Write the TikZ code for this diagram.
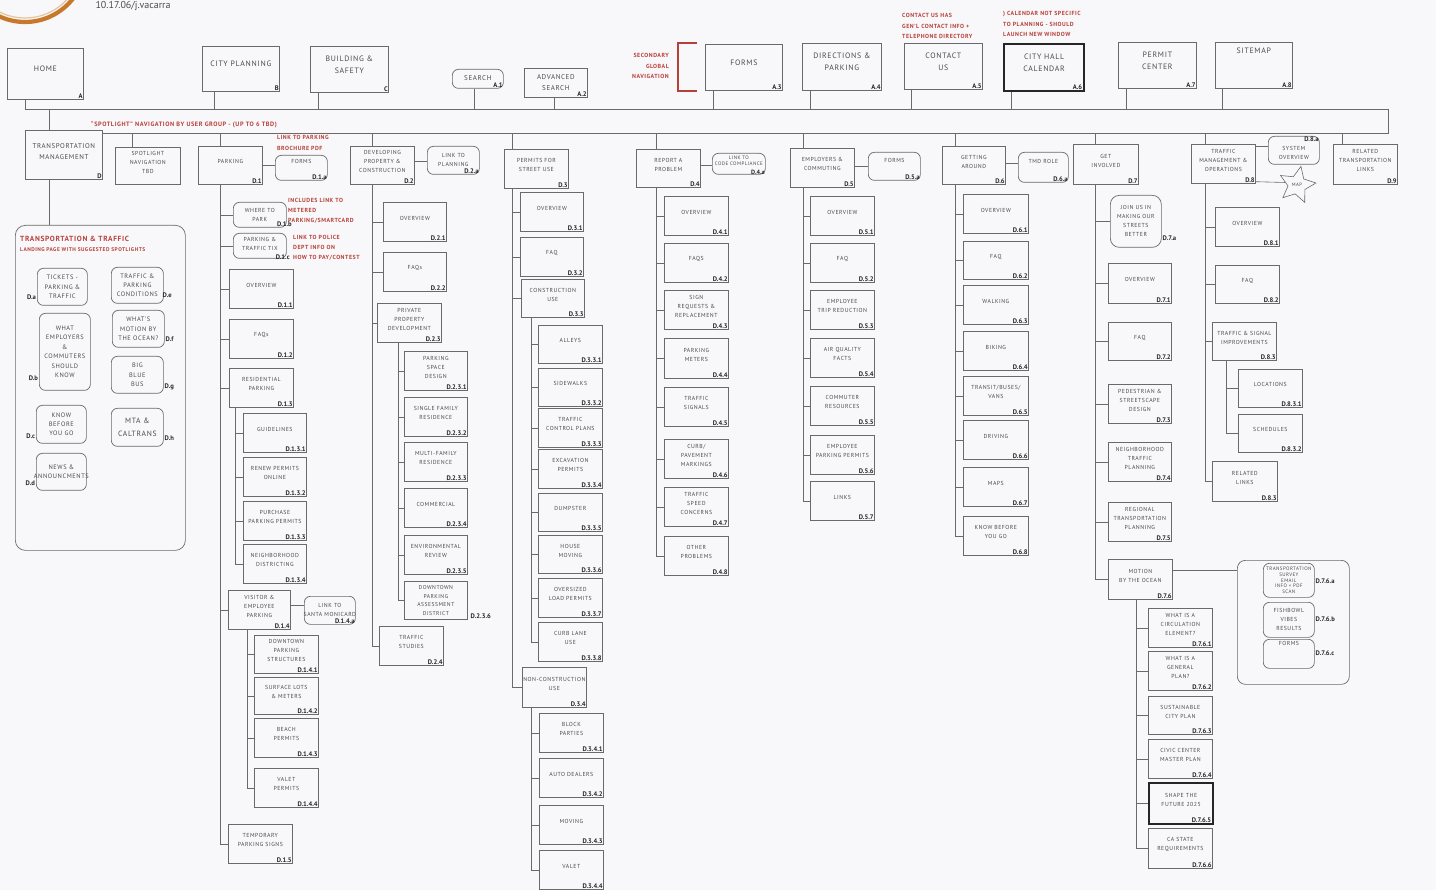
\documentclass[tikz,border=0pt]{standalone}
\usepackage{fontspec}
\setmainfont{PT Sans}
\newfontfamily\boxfont[LetterSpace=9,Ligatures=TeX]{PT Sans}
\usetikzlibrary{shapes.geometric}
\definecolor{lc}{HTML}{6A6A6A}
\definecolor{rd}{HTML}{B8403A}
\definecolor{bg}{HTML}{F8F8FA}
\definecolor{tx}{HTML}{4A4A4A}
\definecolor{orng}{HTML}{C8782A}
\tikzset{
  ln/.style={draw=lc, line width=0.6pt},
  bx/.style={draw=lc, line width=0.7pt, inner sep=0pt},
  rbx/.style={bx, rounded corners=6pt},
  txt/.style={text=tx, font=\boxfont\fontsize{5.8}{9}\selectfont, align=center, inner sep=0pt},
  ptxt/.style={text=tx, font=\boxfont\fontsize{6.4}{9.4}\selectfont, align=center, inner sep=0pt},
  big/.style={text=tx, font=\boxfont\fontsize{7.8}{12}\selectfont, align=center, inner sep=0pt},
  lab/.style={text=black!85, font=\bfseries\fontsize{6.6}{7}\selectfont, inner sep=0.8pt},
  note/.style={text=rd, font=\boxfont\bfseries\fontsize{5.9}{10.6}\selectfont, inner sep=0pt},
  thick box/.style={line width=2.2pt, draw=black!85},
}
\newcommand\mybox[8][]{%
  \node[bx,#1,anchor=north west,minimum width=#5pt,minimum height=#6pt] (#2) at (#3,#4) {};
  \node[txt] at ([yshift=3.5pt]#2.center) {#7};
  \node[lab,anchor=south east] at (#2.south east) {#8};}
\newcommand\topbox[8][]{%
  \node[bx,#1,anchor=north west,minimum width=#5pt,minimum height=#6pt] (#2) at (#3,#4) {};
  \node[big] at ([yshift=5pt]#2.center) {#7};
  \node[lab,anchor=south east] at (#2.south east) {#8};}
\newcommand\rbox[7][]{%
  \node[rbx,#1,anchor=north west,minimum width=#5pt,minimum height=#6pt] (#2) at (#3,#4) {};
  \node[txt] at (#2.center) {#7};}
\newcommand\prbox[7][]{%
  \node[rbx,#1,anchor=north west,minimum width=#5pt,minimum height=#6pt] (#2) at (#3,#4) {};
  \node[ptxt] at (#2.center) {#7};}
\newcommand\dn[3]{\draw[ln] ([xshift=#2pt]#1.south west) coordinate (tmp) -- (tmp |- #3);}
\newcommand\up[3]{\draw[ln] ([xshift=#2pt]#1.north west) coordinate (tmp) -- (tmp |- #3);}
\newcommand\kids[3]{\foreach \kk in {#3} {\draw[ln] ([xshift=#2pt]#1.south west) |- (\kk.west);}}
\begin{document}
\begin{tikzpicture}[x=1pt,y=-1pt]
\fill[bg] (0,0) rectangle (1436,890);
\useasboundingbox (0,0) rectangle (1436,890);
% logo ring and date
\draw[orng, line width=4.2pt] (25,-39) circle (61);
\draw[orng!45, line width=1.2pt] (25,-39) circle (57);
\node[anchor=west, text=black!70, font=\fontsize{10}{12}\selectfont] (date) at (92,6) {10.17.06/j.vacarra};

% bus lines
\coordinate (gL) at (25,109);
\coordinate (gR) at (1388,109);
\coordinate (sR) at (1388,133);
\coordinate (sL) at (102,133);
\coordinate (gl) at (0,109);
\coordinate (sl) at (0,133);
\draw[ln] (gL) -- (gR) -- (sR) -- (sL);

% top row
\topbox{home}{7}{48}{76}{51}{HOME}{A}
\topbox{cityp}{202}{46}{77}{45}{CITY PLANNING}{B}
\topbox{build}{310}{46}{78}{46}{BUILDING \&\\SAFETY}{C}
\node[rbx,anchor=north west,minimum width=51pt,minimum height=19pt] (search) at (452,69) {};
\node[big,font=\boxfont\fontsize{7}{8}\selectfont] at ([yshift=1pt]search.center) {SEARCH};
\node[lab,anchor=south east] at (search.south east) {A.1};
\node[bx,anchor=north west,minimum width=63pt,minimum height=29pt] (advs) at (524,68) {};
\node[big,font=\boxfont\fontsize{7}{11}\selectfont] at (advs.center) {ADVANCED\\SEARCH\hspace{8pt}};
\node[lab,anchor=south east] at (advs.south east) {A.2};
\topbox{forms}{705}{44}{77}{46}{FORMS}{A.3}
\topbox{dirp}{802}{43}{79}{47}{DIRECTIONS \&\\PARKING}{A.4}
\topbox{cont}{904}{43}{78}{46}{CONTACT\\US}{A.5}
\node[bx,thick box,anchor=north west,minimum width=80pt,minimum height=47pt] (cal) at (1003,43) {};
\node[big] at ([yshift=5pt]cal.center) {CITY HALL\\CALENDAR};
\node[lab,anchor=south east] at ([xshift=-2pt,yshift=2pt]cal.south east) {A.6};
\topbox{perm}{1118}{42}{78}{46}{PERMIT\\CENTER}{A.7}
\topbox{site}{1215}{42}{77}{46}{SITEMAP\\[8pt]}{A.8}
\dn{home}{18}{gl}
\dn{cityp}{12}{gl}
\dn{build}{8}{gl}
\dn{search}{22}{gl}
\dn{advs}{30}{gl}
\dn{forms}{8}{gl}
\dn{dirp}{8}{gl}
\dn{cont}{7}{gl}
\dn{cal}{8}{gl}
\dn{perm}{8}{gl}
\dn{site}{7}{gl}

% red notes top
\node[note,anchor=north east,align=right] (n1) at (669,53) {SECONDARY\\GLOBAL\\NAVIGATION};
\draw[rd, line width=2pt] (697,43) -- (678,43) -- (678,91) -- (697,91);
\node[note,anchor=north west,align=left] (n2) at (902,13) {CONTACT US HAS\\GEN'L CONTACT INFO +\\TELEPHONE DIRECTORY};
\node[note,anchor=north west,align=left] (n3) at (1003,11) {) CALENDAR NOT SPECIFIC\\TO PLANNING - SHOULD\\LAUNCH NEW WINDOW};
\node[note,anchor=west,font=\boxfont\bfseries\fontsize{6.3}{7}\selectfont] (n4) at (91,125) {“SPOTLIGHT” NAVIGATION BY USER GROUP - (UP TO 6 TBD)};

% second level
\node[bx,anchor=north west,minimum width=77pt,minimum height=49pt] (tm) at (25,130) {};
\node[ptxt,font=\boxfont\fontsize{6.9}{11}\selectfont] at ([yshift=3pt]tm.center) {TRANSPORTATION\\MANAGEMENT};
\node[lab,anchor=south east] at (tm.south east) {D};
\up{tm}{24}{gl}
\mybox{spot}{115}{147}{65}{37}{SPOTLIGHT\\NAVIGATION\\TBD}{}
\mybox{d1}{198}{146}{64}{38}{PARKING}{D.1}
\mybox{d2}{350}{146}{64}{38}{DEVELOPING\\PROPERTY \&\\CONSTRUCTION}{D.2}
\mybox{d3}{504}{149}{64}{39}{PERMITS FOR\\STREET USE}{D.3}
\mybox{d4}{636}{149}{64}{38}{REPORT A\\PROBLEM}{D.4}
\mybox{d5}{790}{148}{64}{39}{EMPLOYERS \&\\COMMUTING}{D.5}
\mybox{d6}{942}{146}{63}{38}{GETTING\\AROUND}{D.6}
\mybox{d7}{1073}{144}{65}{40}{GET\\INVOLVED}{D.7}
\mybox{d8}{1191}{144}{64}{39}{TRAFFIC\\MANAGEMENT \&\\OPERATIONS}{D.8}
\mybox{d9}{1333}{144}{64}{40}{RELATED\\TRANSPORTATION\\LINKS}{D.9}
\up{spot}{17}{sl}
\up{d1}{22}{sl}
\up{d2}{22}{sl}
\up{d3}{8}{sl}
\up{d4}{20}{sl}
\up{d5}{13}{sl}
\up{d6}{13}{sl}
\up{d7}{22}{sl}
\up{d8}{14}{sl}
\up{d9}{9}{sl}

% side links
\rbox{d1a}{275}{155}{52}{25}{FORMS\\[3pt]}
\node[lab,anchor=south east] at (d1a.south east) {D.1.a};
\draw[ln] (d1.east) -- (d1.east -| d1a.west);
\rbox{d2a}{427}{146}{52}{28}{LINK TO\\PLANNING}
\node[lab,anchor=south east] at (d2a.south east) {D.2.a};
\draw[ln] ([yshift=4pt]d2.east) -- ([yshift=4pt]d2.east -| d2a.west);
\node[rbx,anchor=north west,minimum width=53pt,minimum height=21pt] (d4a) at (712,153) {};
\node[txt,font=\boxfont\fontsize{5}{6.6}\selectfont] at ([yshift=3pt]d4a.center) {LINK TO\\CODE COMPLIANCE};
\node[lab,anchor=south east,font=\bfseries\fontsize{6.2}{7}\selectfont] at ([yshift=-0.5pt]d4a.south east) {D.4.a};
\draw[ln] ([yshift=3pt]d4.east) -- ([yshift=3pt]d4.east -| d4a.west);
\rbox{d5a}{868}{152}{52}{28}{FORMS\\[3pt]}
\node[lab,anchor=south east] at (d5a.south east) {D.5.a};
\draw[ln] ([yshift=2pt]d5.east) -- ([yshift=2pt]d5.east -| d5a.west);
\rbox{d6a}{1018}{152}{50}{30}{TMD ROLE\\[3pt]}
\node[lab,anchor=south east] at (d6a.south east) {D.6.a};
\draw[ln] ([yshift=2pt]d6.east) -- ([yshift=2pt]d6.east -| d6a.west);
\rbox{d8a}{1268}{136}{51}{28}{\\SYSTEM\\OVERVIEW}
\node[lab,anchor=north east] at (d8a.north east) {D.8.a};
\draw[ln] ([yshift=-2pt]d8.north east) -- ([yshift=-2pt]d8.north east -| d8a.west);
\node[star, star points=5, star point ratio=2.1, draw=lc, line width=0.6pt, minimum size=38pt, inner sep=0pt, rotate=-12] (map) at (1297,185) {};
\node[txt,font=\boxfont\fontsize{4.8}{5}\selectfont] at (map.center) {MAP};
\draw[ln] ([yshift=2pt]d8.south east) -- (map.west);

% notes near parking
\node[note,anchor=north west,align=left] (n5) at (277,135) {LINK TO PARKING\\BROCHURE PDF};
\node[note,anchor=north west,align=left,font=\boxfont\bfseries\fontsize{5.9}{10}\selectfont] (n6) at (288,198) {INCLUDES LINK TO\\METERED\\PARKING/SMARTCARD};
\node[note,anchor=north west,align=left,font=\boxfont\bfseries\fontsize{5.9}{10}\selectfont] (n7) at (293,235) {LINK TO POLICE\\DEPT INFO ON\\HOW TO PAY/CONTEST};

% left panel
\node[bx,rounded corners=10pt,anchor=north west,minimum width=170pt,minimum height=325pt] (panel) at (15,225) {};
\draw[ln] ([xshift=24pt]tm.south west) coordinate (tmp) -- (tmp |- panel.north);
\node[note,anchor=west,font=\boxfont\bfseries\fontsize{7.4}{8}\selectfont] (pt1) at (20,239) {TRANSPORTATION \& TRAFFIC};
\node[note,anchor=west,font=\boxfont\bfseries\fontsize{5.4}{6}\selectfont] (pt2) at (20,250) {LANDING PAGE WITH SUGGESTED SPOTLIGHTS};
\prbox{pa}{37}{268}{50}{37}{TICKETS -\\PARKING \&\\TRAFFIC}
\node[lab,anchor=east] at ([yshift=-10pt]pa.west) {D.a};
\prbox{pe}{111}{267}{52}{36}{TRAFFIC \&\\PARKING\\CONDITIONS}
\node[lab,anchor=west] at ([yshift=-10pt,xshift=-2pt]pe.east) {D.e};
\prbox{pb}{39}{313}{51}{77}{WHAT\\EMPLOYERS\\\&\\COMMUTERS\\SHOULD\\KNOW}
\node[lab,anchor=east] at ([yshift=-26pt]pb.west) {D.b};
\prbox{pf}{112}{310}{52}{37}{WHAT'S\\MOTION BY\\THE OCEAN?}
\node[lab,anchor=west] at ([yshift=-10pt]pf.east) {D.f};
\prbox{pg}{111}{356}{52}{37}{BIG\\BLUE\\BUS}
\node[lab,anchor=west] at ([yshift=-12pt]pg.east) {D.g};
\prbox{pc}{36}{405}{50}{38}{KNOW\\BEFORE\\YOU GO}
\node[lab,anchor=east] at ([yshift=-12pt]pc.west) {D.c};
\node[rbx,anchor=north west,minimum width=52pt,minimum height=38pt] (ph) at (111,408) {};
\node[ptxt,font=\boxfont\fontsize{7.6}{13}\selectfont] at (ph.center) {MTA \&\\CALTRANS};
\node[lab,anchor=west] at ([yshift=-11pt]ph.east) {D.h};
\prbox{pd}{36}{453}{50}{37}{NEWS \&\\ANNOUNCMENTS}
\node[lab,anchor=east] at ([yshift=-11pt]pd.west) {D.d};

% column D.1
\rbox{d1b}{233}{202}{53}{25}{WHERE TO\\PARK\hspace{12pt}}
\node[lab,anchor=south east] at ([xshift=6pt]d1b.south east) {D.1.b};
\node[rbx,anchor=north west,minimum width=53pt,minimum height=25pt] (d1c) at (233,233) {};
\node[txt] at ([yshift=2pt]d1c.center) {PARKING \&\\TRAFFIC TIX};
\node[lab,anchor=south east] at ([xshift=4pt,yshift=-2pt]d1c.south east) {D.1.c};
\mybox{d11}{229}{269}{64}{39}{OVERVIEW}{D.1.1}
\mybox{d12}{229}{319}{64}{39}{FAQs}{D.1.2}
\mybox{d13}{229}{368}{64}{39}{RESIDENTIAL\\PARKING}{D.1.3}
\mybox{d131}{243}{413}{63}{39}{GUIDELINES}{D.1.3.1}
\mybox{d132}{243}{457}{63}{39}{RENEW PERMITS\\ONLINE}{D.1.3.2}
\mybox{d133}{243}{501}{63}{39}{PURCHASE\\PARKING PERMITS}{D.1.3.3}
\mybox{d134}{243}{544}{63}{39}{NEIGHBORHOOD\\DISTRICTING}{D.1.3.4}
\mybox{d14}{228}{590}{62}{39}{VISITOR \&\\EMPLOYEE\\PARKING}{D.1.4}
\rbox{d14a}{304}{596}{51}{28}{LINK TO\\SANTA MONICARD}
\node[lab,anchor=south east] at (d14a.south east) {D.1.4.a};
\draw[ln] ([yshift=5pt]d14.east) -- ([yshift=5pt]d14.east -| d14a.west);
\mybox{d141}{254}{635}{64}{38}{DOWNTOWN\\PARKING\\STRUCTURES}{D.1.4.1}
\mybox{d142}{254}{677}{64}{37}{SURFACE LOTS\\\& METERS}{D.1.4.2}
\mybox{d143}{254}{718}{64}{39}{BEACH\\PERMITS}{D.1.4.3}
\mybox{d144}{254}{768}{64}{39}{VALET\\PERMITS}{D.1.4.4}
\mybox{d15}{228}{824}{64}{39}{TEMPORARY\\PARKING SIGNS}{D.1.5}
\kids{d1}{22}{d1b,d1c,d11,d12,d13,d14,d15}
\kids{d13}{6}{d131,d132,d133,d134}
\kids{d14}{19}{d141,d142,d143,d144}

% column D.2
\mybox{d21}{383}{202}{63}{39}{OVERVIEW}{D.2.1}
\mybox{d22}{383}{252}{63}{39}{FAQs}{D.2.2}
\mybox{d23}{377}{303}{64}{39}{PRIVATE\\PROPERTY\\DEVELOPMENT}{D.2.3}
\mybox{d231}{404}{351}{63}{39}{PARKING\\SPACE\\DESIGN}{D.2.3.1}
\mybox{d232}{404}{397}{63}{39}{SINGLE FAMILY\\RESIDENCE}{D.2.3.2}
\mybox{d233}{404}{442}{63}{39}{MULTI-FAMILY\\RESIDENCE}{D.2.3.3}
\mybox{d234}{404}{488}{63}{39}{COMMERCIAL}{D.2.3.4}
\mybox{d235}{404}{535}{63}{39}{ENVIRONMENTAL\\REVIEW}{D.2.3.5}
\node[bx,anchor=north west,minimum width=63pt,minimum height=38pt] (d236) at (404,581) {};
\node[txt,font=\boxfont\fontsize{5.6}{8.6}\selectfont] at (d236.center) {DOWNTOWN\\PARKING\\ASSESSMENT\\DISTRICT};
\node[lab,anchor=south west] at ([xshift=2pt]d236.south east) {D.2.3.6};
\mybox{d24}{379}{626}{64}{39}{TRAFFIC\\STUDIES}{D.2.4}
\kids{d2}{22}{d21,d22,d23,d24}
\kids{d23}{21}{d231,d232,d233,d234,d235,d236}

% column D.3
\mybox{d31}{520}{192}{63}{39}{OVERVIEW}{D.3.1}
\mybox{d32}{520}{237}{63}{39}{FAQ}{D.3.2}
\mybox{d33}{521}{279}{63}{38}{CONSTRUCTION\\USE}{D.3.3}
\mybox{d331}{538}{325}{64}{38}{ALLEYS}{D.3.3.1}
\mybox{d332}{538}{368}{64}{38}{SIDEWALKS}{D.3.3.2}
\mybox{d333}{538}{408}{64}{39}{TRAFFIC\\CONTROL PLANS}{D.3.3.3}
\mybox{d334}{538}{449}{64}{39}{EXCAVATION\\PERMITS}{D.3.3.4}
\mybox{d335}{538}{493}{64}{38}{DUMPSTER}{D.3.3.5}
\mybox{d336}{538}{535}{64}{38}{HOUSE\\MOVING}{D.3.3.6}
\mybox{d337}{538}{578}{64}{39}{OVERSIZED\\LOAD PERMITS}{D.3.3.7}
\mybox{d338}{538}{622}{64}{39}{CURB LANE\\USE}{D.3.3.8}
\mybox{d34}{522}{667}{64}{40}{NON-CONSTRUCTION\\USE}{D.3.4}
\mybox{d341}{539}{713}{64}{39}{BLOCK\\PARTIES}{D.3.4.1}
\mybox{d342}{539}{758}{64}{39}{AUTO DEALERS}{D.3.4.2}
\mybox{d343}{539}{805}{64}{39}{MOVING}{D.3.4.3}
\mybox{d344}{539}{850}{64}{39}{VALET}{D.3.4.4}
\kids{d3}{8}{d31,d32,d33,d34}
\kids{d33}{10}{d331,d332,d333,d334,d335,d336,d337,d338}
\kids{d34}{9}{d341,d342,d343,d344}

% column D.4
\mybox{d41}{664}{196}{64}{39}{OVERVIEW}{D.4.1}
\mybox{d42}{664}{243}{64}{39}{FAQS}{D.4.2}
\mybox{d43}{664}{290}{64}{39}{SIGN\\REQUESTS \&\\REPLACEMENT}{D.4.3}
\mybox{d44}{664}{338}{64}{40}{PARKING\\METERS}{D.4.4}
\mybox{d45}{664}{387}{64}{39}{TRAFFIC\\SIGNALS}{D.4.5}
\mybox{d46}{664}{439}{64}{39}{CURB/\\PAVEMENT\\MARKINGS}{D.4.6}
\mybox{d47}{664}{487}{64}{39}{TRAFFIC\\SPEED\\CONCERNS}{D.4.7}
\mybox{d48}{664}{536}{64}{39}{OTHER\\PROBLEMS}{D.4.8}
\kids{d4}{20}{d41,d42,d43,d44,d45,d46,d47,d48}

% column D.5
\mybox{d51}{810}{196}{64}{39}{OVERVIEW}{D.5.1}
\mybox{d52}{810}{243}{64}{39}{FAQ}{D.5.2}
\mybox{d53}{810}{290}{64}{39}{EMPLOYEE\\TRIP REDUCTION}{D.5.3}
\mybox{d54}{810}{338}{64}{39}{AIR QUALITY\\FACTS}{D.5.4}
\mybox{d55}{810}{386}{64}{39}{COMMUTER\\RESOURCES}{D.5.5}
\mybox{d56}{810}{435}{64}{39}{EMPLOYEE\\PARKING PERMITS}{D.5.6}
\mybox{d57}{810}{481}{64}{39}{LINKS}{D.5.7}
\kids{d5}{13}{d51,d52,d53,d54,d55,d56,d57}

% column D.6
\mybox{d61}{963}{194}{65}{39}{OVERVIEW}{D.6.1}
\mybox{d62}{963}{241}{65}{38}{FAQ}{D.6.2}
\mybox{d63}{963}{285}{65}{39}{WALKING}{D.6.3}
\mybox{d64}{963}{331}{65}{39}{BIKING}{D.6.4}
\mybox{d65}{963}{376}{65}{39}{TRANSIT/BUSES/\\VANS}{D.6.5}
\mybox{d66}{963}{420}{65}{39}{DRIVING}{D.6.6}
\mybox{d67}{963}{467}{65}{39}{MAPS}{D.6.7}
\mybox{d68}{963}{516}{65}{39}{KNOW BEFORE\\YOU GO}{D.6.8}
\kids{d6}{13}{d61,d62,d63,d64,d65,d66,d67,d68}

% column D.7
\rbox[rounded corners=9pt]{d7a}{1110}{195}{51}{52}{JOIN US IN\\MAKING OUR\\STREETS\\BETTER}
\node[lab,anchor=west] at ([yshift=-17pt]d7a.east) {D.7.a};
\mybox{d71}{1108}{263}{63}{40}{OVERVIEW}{D.7.1}
\mybox{d72}{1108}{322}{63}{38}{FAQ}{D.7.2}
\mybox{d73}{1108}{384}{63}{39}{PEDESTRIAN \&\\STREETSCAPE\\DESIGN}{D.7.3}
\mybox{d74}{1108}{442}{63}{39}{NEIGHBORHOOD\\TRAFFIC\\PLANNING}{D.7.4}
\mybox{d75}{1108}{502}{63}{39}{REGIONAL\\TRANSPORTATION\\PLANNING}{D.7.5}
\mybox{d76}{1108}{559}{64}{40}{MOTION\\BY THE OCEAN}{D.7.6}
\kids{d7}{22}{d7a,d71,d72,d73,d74,d75,d76}
\node[bx,rounded corners=8pt,anchor=north west,minimum width=112pt,minimum height=124pt] (panel2) at (1237,560) {};
\draw[ln] ([yshift=-11pt]d76.north east) -- ([yshift=-11pt]d76.north east -| panel2.west);
\rbox{d76a}{1263}{563}{51}{34}{}
\node[txt,font=\boxfont\fontsize{5}{5.8}\selectfont] at (d76a.center) {TRANSPORTATION\\SURVEY\\EMAIL\\INFO + PDF\\SCAN};
\node[lab,anchor=west] at ([yshift=-1pt]d76a.east) {D.7.6.a};
\rbox{d76b}{1263}{602}{51}{35}{FISHBOWL\\VIBES\\RESULTS}
\node[lab,anchor=west] at ([yshift=1pt]d76b.east) {D.7.6.b};
\rbox{d76c}{1263}{639}{51}{29}{FORMS\\[12pt]}
\node[lab,anchor=west] at ([yshift=1pt]d76c.east) {D.7.6.c};
\mybox{d761}{1148}{608}{64}{39}{WHAT IS A\\CIRCULATION\\ELEMENT?}{D.7.6.1}
\mybox{d762}{1148}{651}{64}{39}{WHAT IS A\\GENERAL\\PLAN?}{D.7.6.2}
\mybox{d763}{1148}{696}{64}{38}{SUSTAINABLE\\CITY PLAN}{D.7.6.3}
\mybox{d764}{1148}{739}{64}{39}{CIVIC CENTER\\MASTER PLAN}{D.7.6.4}
\node[bx,thick box,anchor=north west,minimum width=64pt,minimum height=41pt] (d765) at (1148,782) {};
\node[txt] at ([yshift=3.5pt]d765.center) {SHAPE THE\\FUTURE 2025};
\node[lab,anchor=south east] at ([xshift=-2pt,yshift=2pt]d765.south east) {D.7.6.5};
\mybox{d766}{1148}{828}{64}{40}{CA STATE\\REQUIREMENTS}{D.7.6.6}
\kids{d76}{28}{d761,d762,d763,d764,d765,d766}

% column D.8
\mybox{d81}{1215}{207}{64}{39}{OVERVIEW}{D.8.1}
\mybox{d82}{1215}{265}{64}{38}{FAQ}{D.8.2}
\mybox{d83}{1212}{322}{64}{38}{TRAFFIC \& SIGNAL\\IMPROVEMENTS}{D.8.3}
\mybox{d831}{1238}{369}{64}{38}{LOCATIONS}{D.8.3.1}
\mybox{d832}{1238}{414}{64}{38}{SCHEDULES}{D.8.3.2}
\mybox{d84}{1212}{461}{65}{40}{RELATED\\LINKS}{D.8.3}
\kids{d8}{14}{d81,d82,d83,d84}
\kids{d83}{14}{d831,d832}
\end{tikzpicture}
\end{document}
